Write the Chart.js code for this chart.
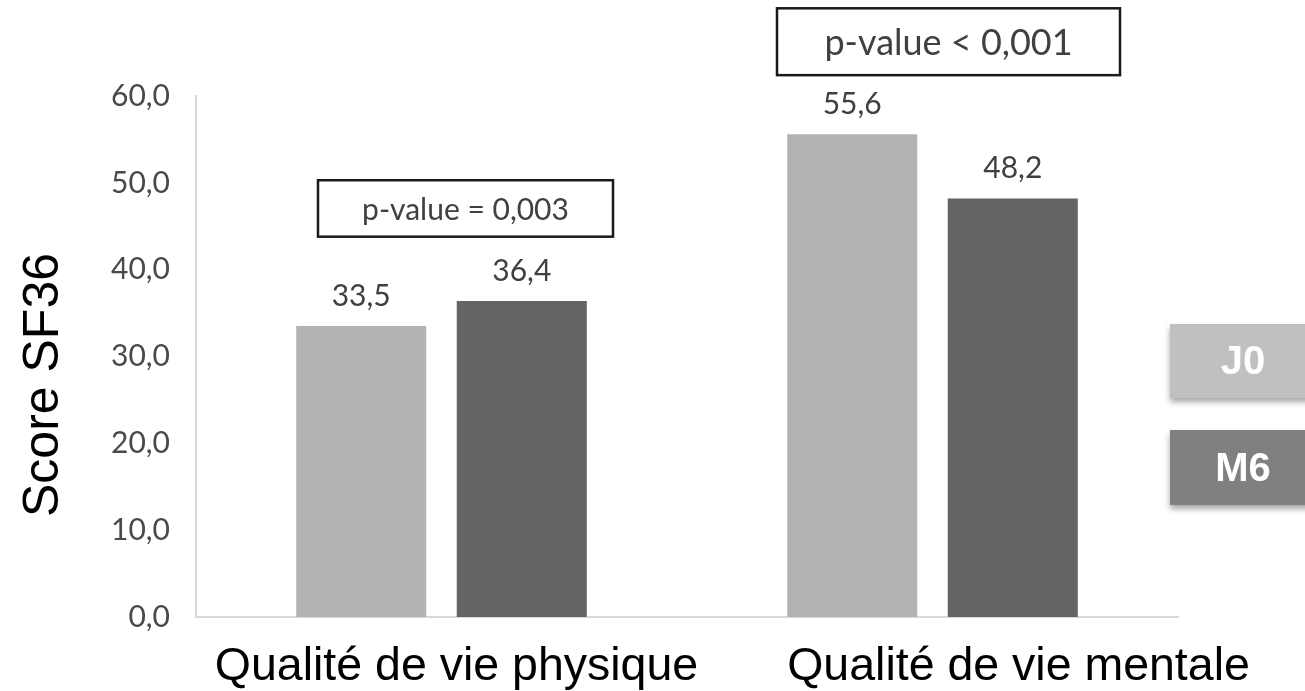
<!DOCTYPE html>
<html>
<head>
<meta charset="utf-8">
<script src="https://cdn.jsdelivr.net/npm/chart.js@4/dist/chart.umd.min.js"></script>
<style>
  html, body { margin: 0; padding: 0; background: #ffffff; }
  #wrap { width: 1305px; height: 691px; }
</style>
</head>
<body>
<div id="wrap"><canvas id="c" width="1305" height="691"></canvas></div>
<script>
// SF36 scores at J0 and M6
const categories = ['Qualité de vie physique', 'Qualité de vie mentale'];
const seriesNames = ['J0', 'M6'];
const valuesJ0 = [33.5, 55.6];
const valuesM6 = [36.4, 48.2];
const yTicks = [0, 10, 20, 30, 40, 50, 60];
const pValueTexts = ['p-value = 0,003', 'p-value < 0,001'];
const yTitle = 'Score SF36';

const barColors = ['#b3b3b3', '#646464'];
const legendColors = ['#c0c0c0', '#808080'];

const fmt = v => Number(v).toFixed(1).replace('.', ',');

// Placement of the p-value frames, per category (offset from category centre, value range)
const pBoxLayout = [
  { dx: 24, w: 295, top: 50.3, bottom: 43.8, font: 30 },
  { dx: 16, w: 343, top: 70.1, bottom: 62.4, font: 36 }
];
// Horizontal shift of each category caption from its category centre
const captionShift = [15, 86];

const valueLabels = {
  id: 'valueLabels',
  afterDatasetsDraw(chart) {
    const ctx = chart.ctx;
    ctx.save();
    ctx.font = '30px Lato, "Open Sans", sans-serif';
    ctx.fillStyle = '#404040';
    ctx.textAlign = 'center';
    ctx.textBaseline = 'middle';
    chart.data.datasets.forEach((ds, i) => {
      chart.getDatasetMeta(i).data.forEach((bar, j) => {
        ctx.fillText(fmt(ds.data[j]), bar.x, bar.y - 30);
      });
    });
    ctx.restore();
  }
};

const pValueBoxes = {
  id: 'pValueBoxes',
  afterDatasetsDraw(chart) {
    const ctx = chart.ctx;
    const xs = chart.scales.x, ys = chart.scales.y;
    ctx.save();
    pValueTexts.forEach((txt, i) => {
      const L = pBoxLayout[i];
      const cx = xs.getPixelForValue(i) + L.dx;
      const y0 = ys.getPixelForValue(L.top);
      const y1 = ys.getPixelForValue(L.bottom);
      ctx.fillStyle = '#ffffff';
      ctx.fillRect(cx - L.w / 2, y0, L.w, y1 - y0);
      ctx.strokeStyle = '#1a1a1a';
      ctx.lineWidth = 2.5;
      ctx.strokeRect(cx - L.w / 2, y0, L.w, y1 - y0);
      ctx.font = L.font + 'px Lato, "Open Sans", sans-serif';
      ctx.fillStyle = '#404040';
      ctx.textAlign = 'center';
      ctx.textBaseline = 'middle';
      ctx.fillText(txt, cx, (y0 + y1) / 2 + 2);
    });
    ctx.restore();
  }
};

const categoryCaptions = {
  id: 'categoryCaptions',
  afterDraw(chart) {
    const ctx = chart.ctx;
    const xs = chart.scales.x;
    ctx.save();
    ctx.font = '46.5px "Liberation Sans", Arial, sans-serif';
    ctx.fillStyle = '#000000';
    ctx.textAlign = 'center';
    ctx.textBaseline = 'alphabetic';
    categories.forEach((c, i) => {
      ctx.fillText(c, xs.getPixelForValue(i) + captionShift[i], chart.chartArea.bottom + 63);
    });
    ctx.restore();
  }
};

const sideLegend = {
  id: 'sideLegend',
  afterDraw(chart) {
    const ctx = chart.ctx;
    const boxes = [{ y: 324, h: 74 }, { y: 430, h: 75 }];
    chart.data.datasets.forEach((ds, i) => {
      const b = boxes[i];
      ctx.save();
      ctx.shadowColor = 'rgba(0,0,0,0.35)';
      ctx.shadowBlur = 6;
      ctx.shadowOffsetY = 4;
      ctx.fillStyle = legendColors[i];
      ctx.fillRect(1170, b.y, 1305 - 1170 + 10, b.h);
      ctx.restore();
      ctx.save();
      ctx.font = 'bold 40px "Liberation Sans", Arial, sans-serif';
      ctx.fillStyle = '#ffffff';
      ctx.textAlign = 'center';
      ctx.textBaseline = 'middle';
      ctx.fillText(ds.label, 1243, b.y + b.h / 2 + 2);
      ctx.restore();
    });
  }
};

const sideTitle = {
  id: 'sideTitle',
  afterDraw(chart) {
    const ctx = chart.ctx;
    ctx.save();
    ctx.translate(44, 385);
    ctx.rotate(-Math.PI / 2);
    ctx.font = '50px "Liberation Sans", Arial, sans-serif';
    ctx.fillStyle = '#000000';
    ctx.textAlign = 'center';
    ctx.textBaseline = 'middle';
    ctx.fillText(yTitle, 0, 0);
    ctx.restore();
  }
};

new Chart(document.getElementById('c'), {
  type: 'bar',
  data: {
    labels: categories,
    datasets: [
      { label: seriesNames[0], data: valuesJ0, backgroundColor: barColors[0],
        categoryPercentage: 0.654, barPercentage: 0.81 },
      { label: seriesNames[1], data: valuesM6, backgroundColor: barColors[1],
        categoryPercentage: 0.654, barPercentage: 0.81 }
    ]
  },
  options: {
    responsive: false,
    animation: false,
    layout: { padding: { left: 0, right: 127, top: 96, bottom: 0 } },
    plugins: { legend: { display: false }, tooltip: { enabled: false } },
    scales: {
      x: {
        grid: { display: false, drawTicks: false },
        border: { display: true, color: '#d9d9d9', width: 2 },
        ticks: { display: false },
        afterFit(scale) { scale.height = 74; }
      },
      y: {
        min: 0, max: 60,
        afterBuildTicks(scale) { scale.ticks = yTicks.map(v => ({ value: v })); },
        grid: { display: false, drawTicks: false },
        border: { display: true, color: '#d9d9d9', width: 2 },
        ticks: {
          color: '#4a4a4a',
          padding: 26,
          font: { family: 'Lato, "Open Sans", sans-serif', size: 30 },
          callback: v => fmt(v)
        },
        afterFit(scale) { scale.width = 196; }
      }
    }
  },
  plugins: [valueLabels, pValueBoxes, categoryCaptions, sideLegend, sideTitle]
});
</script>
</body>
</html>
